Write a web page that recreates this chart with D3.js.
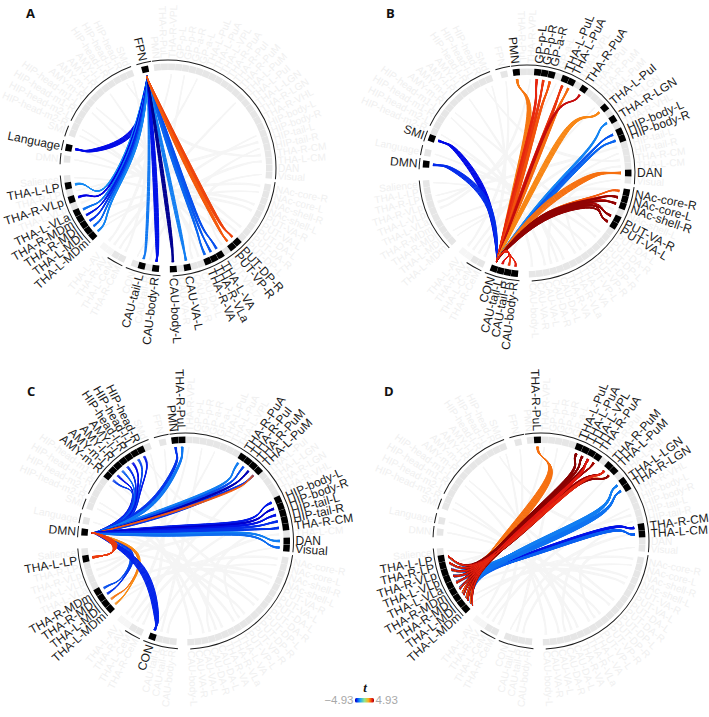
<!DOCTYPE html>
<html>
<head>
<meta charset="utf-8">
<script src="https://cdn.jsdelivr.net/npm/d3@7"></script>
<style>
html,body{margin:0;padding:0;background:#fff}
svg{display:block}
text{font-family:"Liberation Sans",Arial,sans-serif}
</style>
</head>
<body>
<svg id="chart" width="709" height="717"></svg>
<script>
// Regions around the ring, clockwise, split into runs that sit next to each other.
const ringGroups = [
  ['FPN'],
  ['PMN','THA-R-PuL','THA-R-VPL','GP-p-L','GP-p-R','GP-a-R','GP-a-L','THA-L-PuL','THA-L-PuA','THA-L-VPL','THA-R-PuA','THA-R-PuI','THA-R-PuM','THA-L-PuM','THA-L-PuI','THA-L-LGN','THA-R-LGN','THA-R-VHL','HIP-body-L','HIP-body-R','HIP-tail-L','HIP-tail-R','THA-R-CM','THA-L-CM','DAN','Visual'],
  ['NAc-core-R','NAc-core-L','NAc-shell-R','NAc-shell-L','PUT-VA-R','PUT-VA-L','PUT-DA-L','PUT-DA-R','PUT-DP-L','PUT-DP-R','PUT-VP-R','PUT-VP-L','THA-L-VA','THA-R-VLa','THA-R-VA','CAU-DA-L','CAU-DA-R'],
  ['CAU-VA-L','CAU-VA-R','CAU-body-L'],
  ['CAU-body-R','CAU-tail-R','CAU-tail-L','CON'],
  ['THA-R-CeM','THA-L-CeM','THA-R-AV','THA-L-AV'],
  ['THA-L-MDm','THA-L-MDl','THA-R-MDl','THA-R-MDm','THA-L-VLa','THA-L-VLp','THA-R-VLp','THA-R-LP','THA-L-LP','Salience'],
  ['DMN'],
  ['Language'],
  ['SMl','HIP-head-m2-R','HIP-head-m2-L','HIP-head-m1-R','HIP-head-m1-L','AMY-m-R','AMY-m-L','AMY-l-R','AMY-l-L','HIP-head-l-R','HIP-head-l-L','HIP-head-R','SMd']
];
const groupStartAngles = [-13,-6,101,169,187,207,228,275,281.5,290];
const slotDegrees = 4;
const fadedRegions = ['THA-R-AV','THA-L-AV'];

// Outer brackets, as [start, end] in degrees clockwise from the top.
const bracketRanges = [[-8.5,96],[97.5,177.5],[184,203],[205,214],[226,266],[272,278],[279.5,285],[287,293],[296,340],[343,351]];

// Each row: source regions, target regions, t per target, strands per target.
const panelALinks = [
  [['FPN'],['Language'],[-4.4],12],
  [['FPN'],['THA-L-LP','THA-R-VLp','THA-L-VLa','THA-R-MDm','THA-R-MDl','THA-L-MDl','THA-L-MDm'],[-2.7,-4.5,-3.1,-4.2,-3.9,-3.3,-2.8],7],
  [['FPN'],['CAU-tail-L'],[-3.0],5],
  [['FPN'],['CAU-body-R'],[-4.3],11],
  [['FPN'],['THA-L-VA','THA-R-VLa','THA-R-VA'],[-3.6,-3.5,-3.3],6],
  [['FPN'],['CAU-VA-L'],[-2.9],7],
  [['FPN'],['CAU-body-L'],[-4.85],8],
  [['FPN'],['PUT-DP-R','PUT-VP-R'],[3.5,3.2],9]
];
const panelBLinks = [
  [['CON'],['SMl'],[-4.4],12],
  [['CON'],['DMN'],[-4.0],12],
  [['CON'],['PMN'],[2.8],12],
  [['CON'],['GP-p-L','GP-p-R','GP-a-R'],[3.9,3.7,3.3],10],
  [['CON'],['THA-L-PuL','THA-L-PuA'],[3.7,3.0],10],
  [['CON'],['THA-R-PuA'],[4.4],7],
  [['CON'],['THA-L-PuI'],[2.6],12],
  [['CON'],['THA-R-LGN','HIP-body-L','HIP-body-R'],[-2.8,-3.5,-3.3],8],
  [['CON'],['DAN'],[2.9],14],
  [['CON'],['NAc-core-R','NAc-core-L','NAc-shell-R','PUT-VA-R','PUT-VA-L'],[3.2,3.8,4.0,4.6,4.7],6],
  [['CON'],['NAc-core-L','NAc-shell-R','PUT-VA-R','PUT-VA-L'],[4.8,4.8,4.8,4.8],7],
  [['CON'],['CAU-tail-L','CAU-tail-R','CAU-body-R'],[4.2,3.6,4.0],6]
];
const panelCLinks = [
  [['DMN'],['HIP-head-R','HIP-head-l-L','HIP-head-l-R','AMY-l-L','AMY-l-R','AMY-m-L','AMY-m-R'],[-4.2,-3.7,-4.4,-4.0,-3.4,-4.3,-3.8],4],
  [['DMN'],['PMN','THA-R-PuL'],[-3.9,-3.0],9],
  [['DMN'],['THA-R-PuA','THA-R-PuI','THA-R-PuM','THA-L-PuM'],[-2.9,-3.6,-4.7,-3.9],7],
  [['DMN'],['THA-L-PuM'],[3.2],3],
  [['DMN'],['HIP-body-L','HIP-body-R','HIP-tail-L','HIP-tail-R','THA-R-CM','DAN','Visual'],[-4.2,-4.6,-4.3,-4.0,-3.9,-2.9,-3.2],8],
  [['DMN'],['THA-R-MDm','THA-R-MDl'],[-3.6,-3.9],5],
  [['DMN'],['THA-L-MDl','THA-L-MDm'],[2.8,2.5],4],
  [['DMN'],['CON'],[-4.1],16],
  [['DMN'],['THA-L-LP'],[3.6],18]
];
const thalamicRegions = ['THA-L-MDm','THA-L-MDl','THA-R-MDl','THA-R-MDm','THA-L-VLa','THA-L-VLp','THA-R-VLp','THA-R-LP','THA-L-LP'];
const panelDLinks = [
  [thalamicRegions,['THA-R-CM','THA-L-CM'],[-4.3,-3.4],16],
  [thalamicRegions,['THA-L-LGN','THA-R-LGN'],[-2.9,-3.1],20],
  [thalamicRegions,['THA-R-PuL'],[2.9],18],
  [thalamicRegions,['THA-L-PuL','THA-L-PuA','THA-L-VPL','THA-R-PuA','THA-R-PuM','THA-L-PuM'],[4.8,4.6,4.5,3.2,4.4,3.0],12],
  [thalamicRegions,['THA-L-PuL','THA-L-PuA','THA-L-VPL','THA-R-PuA','THA-R-PuM','THA-L-PuM'],[4.85,4.85,4.8,4.7,4.8,4.8],9],
  [thalamicRegions,['THA-L-VPL','THA-R-PuM'],[4.1,3.9],9]
];

// For each bundle: inward bend, trunk width, fan-out radius, fan-out angle shift.
const panelABundleShape = [[.42,6,.84,0],[.22,11,.76,0],[.14,3,.9,0],[.14,5,.9,0],[.12,7,.72,0],[.12,4,.82,0],[.14,4,.82,0],[.1,7,.84,0]];
const panelBBundleShape = [[.28,6,.82,0],[.36,6,.82,0],[.14,6,.78,12],[.12,8,.74,0],[.1,7,.76,0],[.1,3,.8,-12],[.1,6,.78,-12],[.12,8,.8,4],[.24,7,.7,0],[.3,6,.8,-1],[.3,8,.8,-1],[.1,2,.9,0]];
const panelCBundleShape = [[.22,8,.74,-6],[.3,7,.84,0],[.1,10,.76,0],[.1,2,.8,0],[.06,13,.76,0],[.42,5,.8,0],[.5,3,.78,0],[.36,8,.9,0],[.16,6,.78,0]];
const panelDBundleShape = [[.04,6,.84,-6],[.06,9,.8,10],[.08,8,.8,17],[.02,9,.84,-3],[.02,12,.84,-3],[.02,7,.84,-3]];

// Network linking underlay shared by all four rings, in very pale grey.
const underlayLinks = [
  ['THA-L-MDm','NAc-core-R'],['THA-R-MDm','NAc-shell-L'],['THA-L-MDl','PUT-VA-R'],['CON','THA-L-CM'],
  ['THA-R-LP','HIP-tail-L'],['HIP-head-m1-L','CAU-body-L'],['HIP-head-m2-R','CAU-VA-L'],['AMY-m-R','PUT-DA-R'],
  ['AMY-l-L','CAU-DA-L'],['Salience','PUT-VP-R'],['Language','THA-L-VA'],['DMN','PUT-DP-L'],
  ['SMl','THA-R-VA'],['SMd','THA-R-CeM'],['FPN','THA-L-AV'],['GP-p-R','CAU-tail-L'],
  ['THA-L-PuM','THA-R-AV'],['HIP-body-R','THA-L-CeM'],['HIP-tail-R','CAU-DA-R'],['THA-R-VPL','THA-L-VLp'],
  ['GP-a-L','THA-R-VLp'],['Visual','PUT-VP-L'],['NAc-core-L','CAU-tail-R'],['HIP-head-R','THA-R-CM']
];

const tDomain = [-4.93,-4.5,-3.4,-2.2,0,2,3.2,4.2,4.93];
const tColors = ['#00007f','#0000e6','#0860f0','#1ea8f5','#8fe88a','#fbb21c','#f45a0c','#e01010','#7f0000'];
const legendTicks = [-4.93,4.93];

const panels = [
  {letter:'A',cx:168,cy:168,lx:26,ly:18,links:panelALinks,shape:panelABundleShape},
  {letter:'B',cx:527,cy:173,lx:386,ly:18,links:panelBLinks,shape:panelBBundleShape},
  {letter:'C',cx:185.5,cy:541,lx:27,ly:396,links:panelCLinks,shape:panelCBundleShape},
  {letter:'D',cx:541,cy:541,lx:384,ly:396,links:panelDLinks,shape:panelDBundleShape}
];

const tileInner = 98, tileOuter = 104.5, strandEnd = 94, bracketRadius = 108, labelRadius = 110;
const color = d3.scaleLinear().domain(tDomain).range(tColors).clamp(true);

const angleOf = new Map();
ringGroups.forEach((g,i)=>g.forEach((name,j)=>angleOf.set(name,groupStartAngles[i]+j*slotDegrees)));
const rad = d => d*Math.PI/180;
const polar = (deg,r) => [r*Math.sin(rad(deg)),-r*Math.cos(rad(deg))];
const lerp = (p,q,u) => [p[0]+(q[0]-p[0])*u,p[1]+(q[1]-p[1])*u];
const add = (p,n,u) => [p[0]+n[0]*u,p[1]+n[1]*u];
const circularMean = names => {
  const s = d3.sum(names,n=>Math.sin(rad(angleOf.get(n))));
  const c = d3.sum(names,n=>Math.cos(rad(angleOf.get(n))));
  return Math.atan2(s,c)*180/Math.PI;
};
const strandPath = d3.line().curve(d3.curveBasis);

// Builds the strands of one bundle: out of the source fan, along a trunk bent
// towards the ring centre, then narrowing to a thin tip at each target tile.
function bundleStrands(link,shape){
  const [sources,targets,tValues,perTarget] = link;
  const [pull,width,hubFrac,hubShift] = shape;
  const srcAngle = circularMean(sources), tgtAngle = circularMean(targets)+hubShift;
  const hubS = polar(srcAngle,sources.length>1?strandEnd*.82:strandEnd*.95);
  const hubT = polar(tgtAngle,strandEnd*hubFrac);
  const dx = hubT[0]-hubS[0], dy = hubT[1]-hubS[1], len = Math.hypot(dx,dy)||1;
  const normal = [-dy/len,dx/len];
  const rank = targets.map((n,i)=>{
    const p = polar(angleOf.get(n),strandEnd);
    return {i,s:(p[0]-hubT[0])*normal[0]+(p[1]-hubT[1])*normal[1]};
  }).sort((a,b)=>a.s-b.s).map(d=>d.i);
  const out = [];
  targets.forEach((name,k)=>{
    const place = rank.indexOf(k);
    const tgtDeg = angleOf.get(name);
    for(let j=0;j<perTarget;j++){
      const frac = (place+(j+.5)/perTarget)/targets.length-.5;
      const src = sources[j%sources.length];
      const srcPt = polar(angleOf.get(src)+(sources.length>1?(j/perTarget-.5)*2.5:0),strandEnd);
      const spread = (j/(Math.max(perTarget-1,1))-.5)*1.1;
      const tgtPt = polar(tgtDeg+spread,strandEnd);
      const tgtNear = polar(tgtDeg+spread*.3,strandEnd*(hubFrac+(1-hubFrac)*.55));
      const mid = lerp(lerp(hubS,hubT,.5),[0,0],pull);
      const pts = [srcPt,srcPt,
        add(hubS,normal,frac*width*.18),
        add(mid,normal,frac*width),
        add(hubT,normal,frac*width*.8),
        tgtNear,tgtPt,tgtPt];
      out.push({pts,t:tValues[k]});
    }
  });
  return out;
}

const svg = d3.select('#chart');

panels.forEach(panel=>{
  const g = svg.append('g').attr('transform',`translate(${panel.cx},${panel.cy})`);
  const active = new Set(panel.links.flatMap(l=>[...l[0],...l[1]]));

  // Pale underlay of every connection in the network
  const under = g.append('g').attr('fill','none').attr('stroke','#f5f5f5');
  underlayLinks.forEach(pair=>{
    bundleStrands([[pair[0]],[pair[1]],[0],3],[.55,3,.85,0]).forEach(s=>{
      under.append('path').attr('d',strandPath(s.pts)).attr('stroke-width',1.1);
    });
  });

  // Brackets outside the tiles
  const bracketArc = d3.arc().innerRadius(bracketRadius-.5).outerRadius(bracketRadius+.5);
  g.append('g').selectAll('path').data(bracketRanges).join('path')
    .attr('d',d=>bracketArc({startAngle:rad(d[0]),endAngle:rad(d[1])}))
    .attr('fill','#1c1c1c');

  // Tiles
  const tileArc = d3.arc().innerRadius(tileInner).outerRadius(tileOuter);
  const names = Array.from(angleOf.keys());
  g.append('g').selectAll('path').data(names.filter(n=>!active.has(n)).concat(names.filter(n=>active.has(n)))).join('path')
    .attr('d',n=>tileArc({startAngle:rad(angleOf.get(n)-1.95),endAngle:rad(angleOf.get(n)+1.95)}))
    .attr('fill',n=>active.has(n)?'#000':(fadedRegions.includes(n)?'#f6f6f6':'#e6e6e6'));

  // Region labels, radial; the ones not in this panel's links stay pale and a little smaller
  g.append('g').selectAll('text').data(names).join('text')
    .attr('transform',n=>{
      const a = ((angleOf.get(n)%360)+360)%360;
      const [x,y] = polar(a,labelRadius);
      return a<180?`translate(${x},${y}) rotate(${a-90})`:`translate(${x},${y}) rotate(${a+90})`;
    })
    .attr('text-anchor',n=>(((angleOf.get(n)%360)+360)%360)<180?'start':'end')
    .attr('dy','.35em')
    .attr('font-size',n=>active.has(n)?12:10.1)
    .attr('fill',n=>active.has(n)?'#1a1a1a':'#f0f0f0')
    .text(n=>n);

  // Coloured links
  const strands = g.append('g').attr('fill','none').attr('stroke-linecap','round');
  panel.links.forEach((link,i)=>{
    bundleStrands(link,panel.shape[i]).forEach(s=>{
      strands.append('path').attr('d',strandPath(s.pts)).attr('stroke',color(s.t)).attr('stroke-width',1);
    });
  });

  svg.append('text').attr('x',panel.lx).attr('y',panel.ly)
    .attr('font-size',13).attr('font-weight',700).style('font-family','"Open Sans",sans-serif').attr('fill','#111').text(panel.letter);
});

// Colour legend for t
const defs = svg.append('defs');
const legendScale = d3.scaleLinear().domain(d3.extent(tDomain)).range([355,374]);
const grad = defs.append('linearGradient').attr('id','t-gradient');
tDomain.forEach((v,i)=>grad.append('stop')
  .attr('offset',(legendScale(v)-355)/19).attr('stop-color',tColors[i]));
svg.append('rect').attr('x',legendScale.range()[0]).attr('y',698).attr('width',19).attr('height',4.5).attr('rx',1.5).attr('fill','url(#t-gradient)');
svg.selectAll('.legend-tick').data(legendTicks).join('text')
  .attr('class','legend-tick')
  .attr('x',d=>d<0?legendScale(d)-1.5:legendScale(d)+1.5)
  .attr('y',704)
  .attr('text-anchor',d=>d<0?'end':'start')
  .attr('font-size',11.5).attr('fill','#a8a8a8')
  .text(d=>d3.format('.2f')(d));
svg.append('text').attr('x',365).attr('y',692).attr('text-anchor','middle')
  .attr('font-size',13).attr('font-weight',700).attr('font-style','italic')
  .style('font-family','"Liberation Serif",serif').attr('fill','#111').text('t');
</script>
</body>
</html>
